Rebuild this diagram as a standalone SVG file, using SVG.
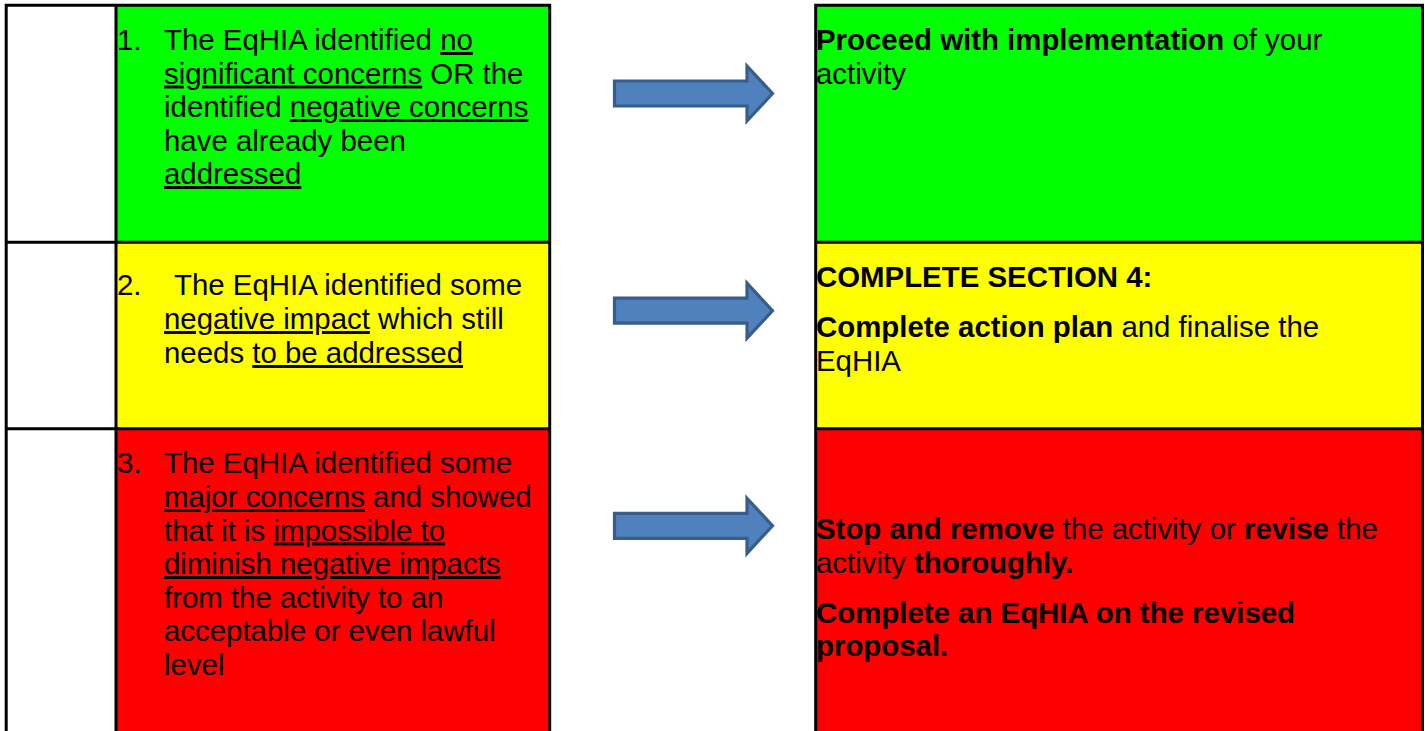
<svg xmlns="http://www.w3.org/2000/svg" width="1425" height="731" viewBox="0 0 1425 731">
<style>
text{font-family:"Liberation Sans",Arial,sans-serif;font-size:29.4px;fill:#000}
.b{font-weight:bold}
.u{text-decoration:underline}
.ln{stroke:#000;stroke-width:3;fill:none}
.arrow{fill:#4F81BD;stroke:#385D8A;stroke-width:3.2;stroke-linejoin:miter}
</style>
<defs>
<path id="arr" d="M614.5,-12.5 H747 V-27.5 L772.5,0 L747,27.5 V12.5 H614.5 Z"/>
</defs>
<rect width="1425" height="731" fill="#fff"/>

<g id="left-table">
  <rect x="116" y="5.3" width="433.7" height="237" fill="#00FF00"/>
  <rect x="116" y="242.3" width="433.7" height="186.4" fill="#FFFF00"/>
  <rect x="116" y="428.7" width="433.7" height="310" fill="#FF0000"/>
  <path class="ln" d="M6.2,740 V5.3 H549.7 V740 M116,5.3 V740 M6.2,242.3 H549.7 M6.2,428.7 H549.7"/>
</g>

<g id="right-table">
  <rect x="815.7" y="5.3" width="606.8" height="237" fill="#00FF00"/>
  <rect x="815.7" y="242.3" width="606.8" height="186.4" fill="#FFFF00"/>
  <rect x="815.7" y="428.7" width="606.8" height="310" fill="#FF0000"/>
  <path class="ln" d="M815.7,740 V5.3 H1422.5 V740 M815.7,242.3 H1422.5 M815.7,428.7 H1422.5"/>
</g>

<g id="node-cond1">
  <text x="117" y="50">1.</text>
  <text x="164" y="50">The EqHIA identified <tspan class="u">no</tspan></text>
  <text x="164" y="83.5"><tspan class="u">significant concerns</tspan> OR the</text>
  <text x="164" y="117">identified <tspan class="u">negative concerns</tspan></text>
  <text x="164" y="150.5">have already been</text>
  <text x="164" y="184"><tspan class="u">addressed</tspan></text>
</g>

<g id="node-cond2">
  <text x="117" y="295">2.</text>
  <text x="174" y="295">The EqHIA identified some</text>
  <text x="164" y="329"><tspan class="u">negative impact</tspan> which still</text>
  <text x="164" y="363">needs <tspan class="u">to be addressed</tspan></text>
</g>

<g id="node-cond3">
  <text x="117" y="473">3.</text>
  <text x="164" y="473">The EqHIA identified some</text>
  <text x="164" y="507"><tspan class="u">major concerns</tspan> and showed</text>
  <text x="164" y="540.5">that it is <tspan class="u">impossible to</tspan></text>
  <text x="164" y="574"><tspan class="u">diminish negative impacts</tspan></text>
  <text x="164" y="607.5">from the activity to an</text>
  <text x="164" y="641">acceptable or even lawful</text>
  <text x="164" y="674.5">level</text>
</g>

<g id="node-action1">
  <text x="816" y="50"><tspan class="b">Proceed with implementation</tspan> of your</text>
  <text x="816" y="83.5">activity</text>
</g>

<g id="node-action2">
  <text x="816" y="286.5" class="b">COMPLETE SECTION 4:</text>
  <text x="816" y="336.5"><tspan class="b">Complete action plan</tspan> and finalise the</text>
  <text x="816" y="370.5">EqHIA</text>
</g>

<g id="node-action3">
  <text x="816" y="539"><tspan class="b">Stop and remove</tspan> the activity or <tspan class="b">revise</tspan> the</text>
  <text x="816" y="572.5">activity <tspan class="b">thoroughly.</tspan></text>
  <text x="816" y="622.5" class="b">Complete an EqHIA on the revised</text>
  <text x="816" y="656" class="b">proposal.</text>
</g>

<g id="connectors">
  <use href="#arr" class="arrow" transform="translate(0,93.5)"/>
  <use href="#arr" class="arrow" transform="translate(0,310.7)"/>
  <use href="#arr" class="arrow" transform="translate(0,525.8)"/>
</g>
</svg>
